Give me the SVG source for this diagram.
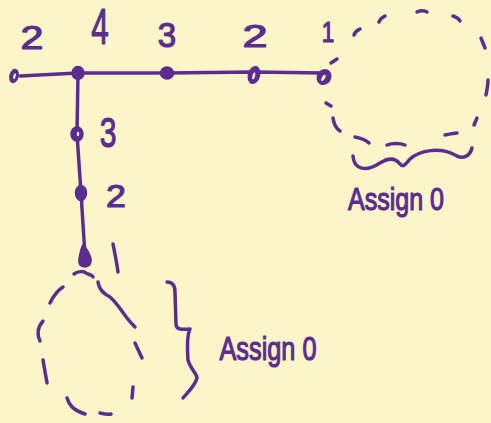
<svg xmlns="http://www.w3.org/2000/svg" width="491" height="423" viewBox="0 0 491 423">
<style>
.ln{fill:none;stroke:#5b2d90;stroke-width:3.5;stroke-linecap:round;stroke-linejoin:round}
.fn{fill:#5b2d90;stroke:#5b2d90;stroke-width:1.5}
.hole{fill:#fbf5c9}
.t{font-family:"Liberation Sans",Arial,sans-serif;fill:#5b2d90;stroke:#5b2d90;stroke-width:1.2;stroke-linejoin:round;text-anchor:middle}
</style>
<rect width="491" height="423" fill="#fbf5c9"/>
<g id="connectors">
<path class="ln" d="M20,76 L78,73 L167,73 L254,72 L324,73"/>
<path class="ln" d="M78,73 L77,134 L81,193 L85,255"/>
</g>
<g id="n0"><ellipse class="fn" cx="14" cy="76" rx="4" ry="6.5" transform="rotate(15 14 76)"/><ellipse class="hole" cx="14.5" cy="76" rx="1.2" ry="3" transform="rotate(15 14 76)"/><text class="t" font-size="33" transform="translate(32 49) scale(1.25 1)">2</text></g>
<g id="n1"><ellipse class="fn" cx="78" cy="73" rx="6" ry="6.5"/><text class="t" font-size="50" transform="translate(100 44) scale(0.63 1)">4</text></g>
<g id="n2"><ellipse class="fn" cx="167" cy="73" rx="6.5" ry="6"/><text class="t" font-size="36" transform="translate(167 47) scale(0.92 1)">3</text></g>
<g id="n3"><ellipse class="fn" cx="254" cy="75" rx="5.5" ry="8.5" transform="rotate(15 254 75)"/><ellipse class="hole" cx="254" cy="76" rx="1.3" ry="3.5" transform="rotate(15 254 75)"/><text class="t" font-size="31" transform="translate(255 47) scale(1.45 1)">2</text></g>
<g id="n4"><ellipse class="fn" cx="324" cy="77" rx="6.5" ry="7.5" transform="rotate(30 324 77)"/><ellipse class="hole" cx="324" cy="78" rx="1.5" ry="3.5" transform="rotate(30 324 77)"/><text class="t" font-size="30" transform="translate(328 42) scale(0.75 1)">1</text></g>
<g id="n5"><ellipse class="fn" cx="77" cy="134" rx="6" ry="7"/><ellipse class="hole" cx="78" cy="134" rx="1.2" ry="2.2"/><text class="t" font-size="43" transform="translate(108 147) scale(0.7 1)">3</text></g>
<g id="n6"><ellipse class="fn" cx="81" cy="193" rx="5.5" ry="7.5"/><text class="t" font-size="32" transform="translate(116 207) scale(1.12 1)">2</text></g>
<g id="n7"><path class="fn" d="M83,245 C86,247 90,254 91,259 C92,264 89,267 85,267 C80,267 78,264 79,259 C80,253 81,247 83,245 Z"/></g>
<g id="loop-right">
<path class="ln" d="M331,63 L337,59"/>
<path class="ln" d="M354,35 C355,31 358,30 360,29"/>
<path class="ln" d="M379,22 C380,19 383,17 385,16"/>
<path class="ln" d="M417,12 C421,10 425,11 427,12"/>
<path class="ln" d="M453,16 C456,17 459,19 460,21"/>
<path class="ln" d="M481,38 L485,48"/>
<path class="ln" d="M488,80 C488,85 487,90 486,95"/>
<path class="ln" d="M477,118 L474,125"/>
<path class="ln" d="M445,135 C450,134 455,133 457,133"/>
<path class="ln" d="M387,145 C392,143 400,143 405,145"/>
<path class="ln" d="M355,137 C360,138 366,140 369,143"/>
<path class="ln" d="M333,118 C334,125 337,129 340,131"/>
<path class="ln" d="M326,103 L331,106"/>
<path class="ln" d="M353,156 C354,170 366,172 380,163 C391,156 397,160 400,164 C403,168 406,164 410,159 C420,150 440,147 455,155 C463,160 470,156 472,148"/>
<text class="t" x="396" y="210" font-size="32" textLength="96" lengthAdjust="spacingAndGlyphs">Assign 0</text>
</g>
<g id="loop-bottom">
<path class="ln" d="M113,244 C115,254 117,264 118,272"/>
<path class="ln" d="M74,274 C78,271 84,271 86,273 M88,274 C91,275 93,276 93,277"/>
<path class="ln" d="M98,282 C99,290 104,294 110,297 C118,304 122,312 127,318 C130,322 133,325 135,327"/>
<path class="ln" d="M135,343 L142,358"/>
<path class="ln" d="M133,387 L132,398"/>
<path class="ln" d="M100,413 C104,414 108,415 111,414"/>
<path class="ln" d="M67,398 C69,405 73,410 85,414"/>
<path class="ln" d="M43,360 L47,383"/>
<path class="ln" d="M40,341 C37,335 37,328 43,321"/>
<path class="ln" d="M50,303 C53,297 58,290 63,287"/>
<path class="ln" d="M167,282 C172,282 175,285 175,292 L176,324 C176,329 180,330 190,329 C187,335 187,345 188,360 C190,368 197,374 197,378 C195,386 188,392 183,398"/>
<text class="t" x="268" y="360" font-size="34" textLength="97" lengthAdjust="spacingAndGlyphs">Assign 0</text>
</g>
</svg>
